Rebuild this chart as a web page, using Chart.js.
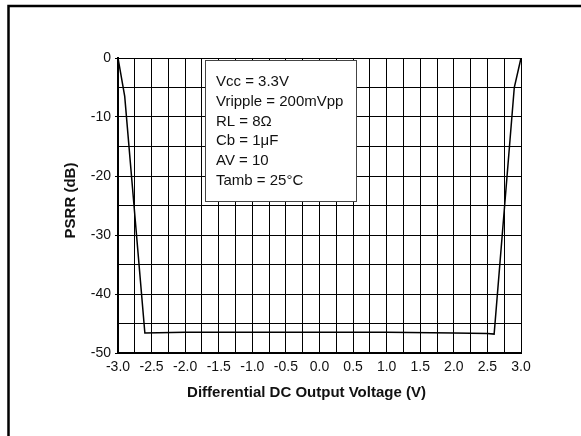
<!DOCTYPE html>
<html>
<head>
<meta charset="utf-8">
<script src="https://cdn.jsdelivr.net/npm/chart.js@4/dist/chart.umd.min.js"></script>
<style>
  body { margin: 0; background: #fff; }
  canvas { display: block; }
</style>
</head>
<body>
<canvas id="graficaPsrr" width="581" height="436"></canvas>
<script>
// datos
var tensiones = [-3.0, -2.9, -2.6, -2.0, -1.0, 0.0, 1.0, 2.0, 2.5, 2.6, 2.9, 3.0];
var psrr = [0, -6.5, -46.6, -46.5, -46.5, -46.5, -46.5, -46.6, -46.7, -46.8, -5.0, 0];
var textosCaja = ["Vcc = 3.3V", "Vripple = 200mVpp", "RL = 8\u03A9", "Cb = 1\u03BCF", "AV = 10", "Tamb = 25\u00B0C"];
var tituloX = "Differential DC Output Voltage (V)";
var tituloY = "PSRR (dB)";

var FUENTE = "'Liberation Sans', Arial, sans-serif";

var puntos = [];
for (let i = 0; i < tensiones.length; i++) {
    puntos.push({x: tensiones[i], y: psrr[i]});
}

var decoracion = {
    id: 'decoracion',
    beforeDraw: function (chart) {
        var ctx = chart.ctx;
        ctx.save();
        ctx.fillStyle = '#fff';
        ctx.fillRect(0, 0, chart.width, chart.height);
        // marco de la figura
        ctx.strokeStyle = '#000';
        ctx.lineWidth = 2.5;
        ctx.beginPath();
        ctx.moveTo(8.5, chart.height);
        ctx.lineTo(8.5, 6);
        ctx.lineTo(chart.width, 6);
        ctx.stroke();
        ctx.restore();
    },
    afterDatasetsDraw: function (chart) {
        var ctx = chart.ctx;
        ctx.save();
        // caja de condiciones
        ctx.fillStyle = '#fff';
        ctx.fillRect(205, 60, 152, 142);
        ctx.strokeStyle = '#444';
        ctx.lineWidth = 1;
        ctx.strokeRect(205.5, 60.5, 151, 141);
        ctx.fillStyle = '#111';
        ctx.font = "15px " + FUENTE;
        ctx.textBaseline = 'middle';
        ctx.textAlign = 'left';
        for (let i = 0; i < textosCaja.length; i++) {
            ctx.fillText(textosCaja[i], 216, 82 + i * 19.7);
        }
        // titulos de ejes
        ctx.font = "bold 15px " + FUENTE;
        ctx.textAlign = 'center';
        ctx.fillText(tituloX, 306.5, 393);
        ctx.translate(70.5, 200.5);
        ctx.rotate(-Math.PI / 2);
        ctx.fillText(tituloY, 0, 0);
        ctx.restore();
    }
};

new Chart(document.getElementById('graficaPsrr').getContext('2d'), {
    type: 'scatter',
    data: {
        datasets: [{
            data: puntos,
            showLine: true,
            borderColor: '#000',
            borderWidth: 1.5,
            pointRadius: 0,
            tension: 0
        }]
    },
    options: {
        responsive: false,
        animation: false,
        layout: {padding: {top: 58, right: 60, left: 0, bottom: 0}},
        plugins: {legend: {display: false}, tooltip: {enabled: false}},
        scales: {
            x: {
                type: 'linear',
                min: -3,
                max: 3,
                afterFit: function (scale) { scale.height = 83; },
                ticks: {
                    stepSize: 0.25,
                    autoSkip: false,
                    maxRotation: 0,
                    padding: 6,
                    color: '#111',
                    font: {family: FUENTE, size: 14},
                    callback: function (v) {
                        return Math.abs(v * 2 - Math.round(v * 2)) < 1e-9 ? v.toFixed(1) : '';
                    }
                },
                grid: {color: '#000', lineWidth: 1, drawTicks: false},
                border: {color: '#000', width: 2}
            },
            y: {
                min: -50,
                max: 0,
                afterFit: function (scale) { scale.width = 118; },
                ticks: {
                    stepSize: 5,
                    autoSkip: false,
                    padding: 4,
                    color: '#111',
                    font: {family: FUENTE, size: 14},
                    callback: function (v) {
                        return v % 10 === 0 ? String(v) : '';
                    }
                },
                grid: {
                    color: '#000',
                    lineWidth: 1,
                    tickLength: 3,
                    tickColor: function (c) {
                        return c.tick && c.tick.value % 10 === 0 ? '#000' : 'rgba(0,0,0,0)';
                    }
                },
                border: {color: '#000', width: 2}
            }
        }
    },
    plugins: [decoracion]
});
</script>
</body>
</html>
